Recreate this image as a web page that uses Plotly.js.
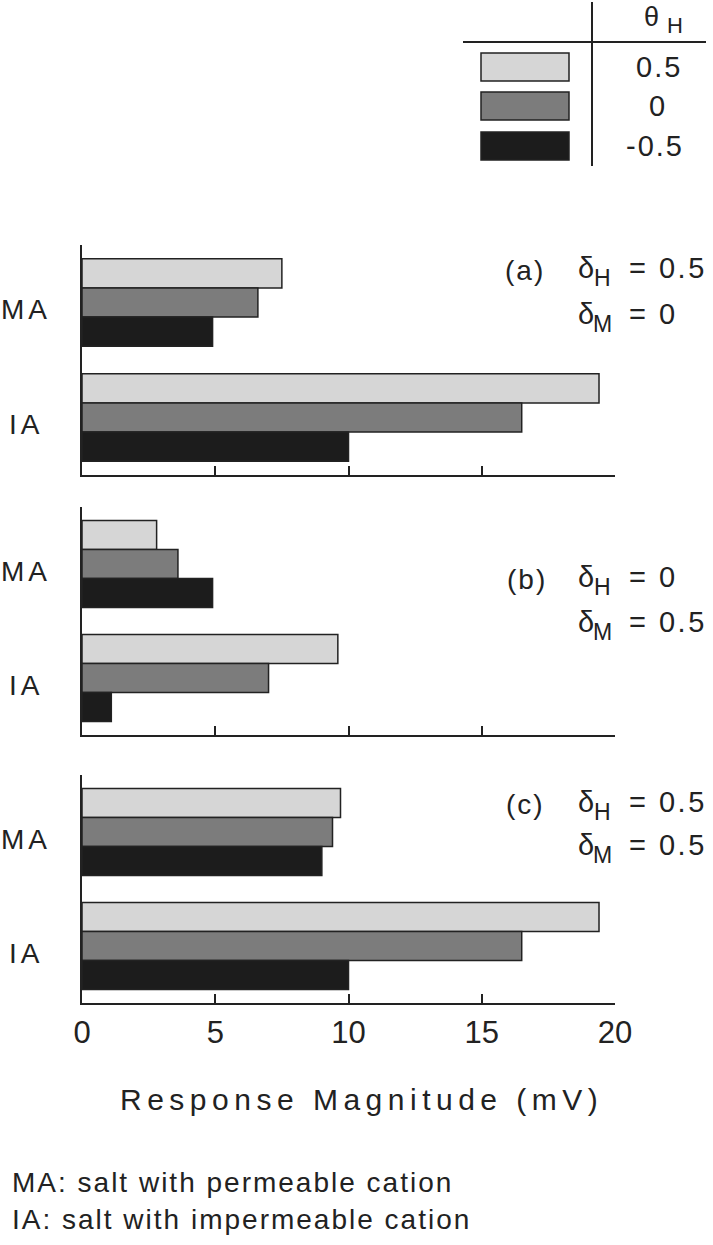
<!DOCTYPE html>
<html lang="en">
<head>
    <meta charset="UTF-8">
    <title>Response Magnitude</title>
    <script src="https://cdn.plot.ly/plotly-3.0.1.min.js"></script>
    <style>
        body { margin: 0; background: #fff; }
        #chart { width: 713px; height: 1245px; }
    </style>
</head>
<body>
    <div id="chart"></div>

    <script>
        // Data
        const categories = ['MA', 'IA'];
        const thetaLabels = ['0.5', '0', '-0.5'];
        const panelNames = ['(a)', '(b)', '(c)'];
        const deltaH = ['0.5', '0', '0.5'];
        const deltaM = ['0', '0.5', '0.5'];

        // values per panel, one array per theta_H (0.5, 0, -0.5), [MA, IA]
        const panelA = [[7.5, 19.4], [6.6, 16.5], [4.9, 10.0]];
        const panelB = [[2.8, 9.6], [3.6, 7.0], [4.9, 1.1]];
        const panelC = [[9.7, 19.4], [9.4, 16.5], [9.0, 10.0]];
        const panels = [panelA, panelB, panelC];

        const xTicks = [0, 5, 10, 15, 20];

        const fills = ['#d6d6d6', '#7c7c7c', '#1c1c1c'];
        const ink = '#222';
        const FONT = 'Liberation Sans, Arial, Helvetica, sans-serif';

        // pixel -> paper helpers (page is 713 x 1245, no margins)
        const W = 713, H = 1245;
        const px = x => x / W;
        const py = y => 1 - y / H;

        const xDomain = [px(82), px(615)];
        // top/bottom pixel edges of each panel
        const panelBox = [[245, 475], [507, 735], [775, 1003]];

        const traces = [];
        panels.forEach((panel, p) => {
            const suffix = p === 0 ? '' : String(p + 1);
            panel.forEach((vals, k) => {
                traces.push({
                    type: 'bar',
                    orientation: 'h',
                    x: vals,
                    y: categories,
                    xaxis: 'x' + suffix,
                    yaxis: 'y' + suffix,
                    name: thetaLabels[k],
                    marker: { color: fills[k], line: { color: ink, width: 1.5 } },
                    hoverinfo: 'skip'
                });
            });
        });

        const layout = {
            width: W,
            height: H,
            margin: { l: 0, r: 0, t: 0, b: 0 },
            paper_bgcolor: '#fff',
            plot_bgcolor: 'rgba(0,0,0,0)',
            showlegend: false,
            barmode: 'group',
            bargap: 0.237,
            bargroupgap: 0,
            font: { family: FONT, color: ink, size: 28 },
            shapes: [],
            annotations: []
        };

        // text placed by its left (or centre) x and baseline y, in pixels
        function label(x, base, text, size, anchor, spacing) {
            const t = spacing ? '<span style="letter-spacing:' + spacing + 'px">' + text + '</span>' : text;
            layout.annotations.push({
                xref: 'paper', yref: 'paper',
                x: px(x), y: py(base - 0.36 * size),
                xanchor: anchor || 'left', yanchor: 'middle',
                showarrow: false, text: t,
                font: { size: size }
            });
        }

        panelBox.forEach((box, p) => {
            const suffix = p === 0 ? '' : String(p + 1);
            layout['xaxis' + suffix] = {
                domain: xDomain,
                anchor: 'y' + suffix,
                range: [0, 20],
                showgrid: false,
                zeroline: false,
                showline: true,
                linecolor: ink,
                linewidth: 2,
                ticks: 'inside',
                ticklen: 9,
                tickwidth: 2,
                tickcolor: ink,
                tickvals: xTicks,
                ticktext: xTicks.map(String),
                showticklabels: p === 2,
                ticklabelstandoff: 1,
                tickfont: { size: 31, family: FONT, color: ink },
                fixedrange: true
            };
            layout['yaxis' + suffix] = {
                domain: [py(box[1]), py(box[0])],
                anchor: 'x' + suffix,
                type: 'category',
                range: [1.5, -0.5],
                showgrid: false,
                zeroline: false,
                showline: true,
                linecolor: ink,
                linewidth: 2,
                ticks: '',
                showticklabels: false,
                fixedrange: true
            };

            // MA / IA labels at the category positions
            categories.forEach(c => {
                layout.annotations.push({
                    xref: 'paper', yref: 'y' + suffix,
                    x: px(26), y: c, yshift: -7,
                    xanchor: 'center', yanchor: 'middle',
                    text: '<span style="letter-spacing:4px">' + c + '</span>',
                    showarrow: false,
                    font: { size: 28 }
                });
            });
        });

        // panel captions: (x)  δH = ..  /  δM = ..
        const captionX = [503, 505, 504];
        const line1Base = [278, 587, 812];
        const line2Base = [324, 632, 855];
        panelNames.forEach((name, p) => {
            label(captionX[p], line1Base[p] + 3, name, 28, 'left', 2);
            label(576, line1Base[p], 'δ', 29);
            label(592, line1Base[p] + 8, 'H', 23, 'left', 0);
            label(627, line1Base[p], '= ' + deltaH[p], 29, 'left', 2.5);
            label(576, line2Base[p], 'δ', 29);
            label(591, line2Base[p] + 8, 'M', 23, 'left', 0);
            label(627, line2Base[p], '= ' + deltaM[p], 29, 'left', 2.5);
        });

        // legend table (top right)
        layout.shapes.push(
            { type: 'line', xref: 'paper', yref: 'paper', x0: px(463), x1: px(706), y0: py(42), y1: py(42), line: { color: ink, width: 2 } },
            { type: 'line', xref: 'paper', yref: 'paper', x0: px(592), x1: px(592), y0: py(2), y1: py(166), line: { color: ink, width: 2 } }
        );
        const swatchTops = [53, 92, 132];
        const labelX = [659, 658, 655];
        thetaLabels.forEach((lab, k) => {
            layout.shapes.push({
                type: 'rect', xref: 'paper', yref: 'paper',
                x0: px(481), x1: px(569), y0: py(swatchTops[k]), y1: py(swatchTops[k] + 28),
                fillcolor: fills[k], line: { color: ink, width: 1.5 }
            });
            label(labelX[k], swatchTops[k] + 24, lab, 29, 'center', 2);
        });
        label(642, 27, 'θ', 27);
        label(665, 33, 'H', 22);

        // axis title and footnotes
        label(361, 1110, 'Response Magnitude (mV)', 30, 'center', 5.5);
        label(10, 1193, 'MA: salt with permeable cation', 28, 'left', 2);
        label(10, 1230, 'IA: salt with impermeable cation', 28, 'left', 2);

        Plotly.newPlot('chart', traces, layout, { staticPlot: true, displayModeBar: false });
    </script>
</body>
</html>
